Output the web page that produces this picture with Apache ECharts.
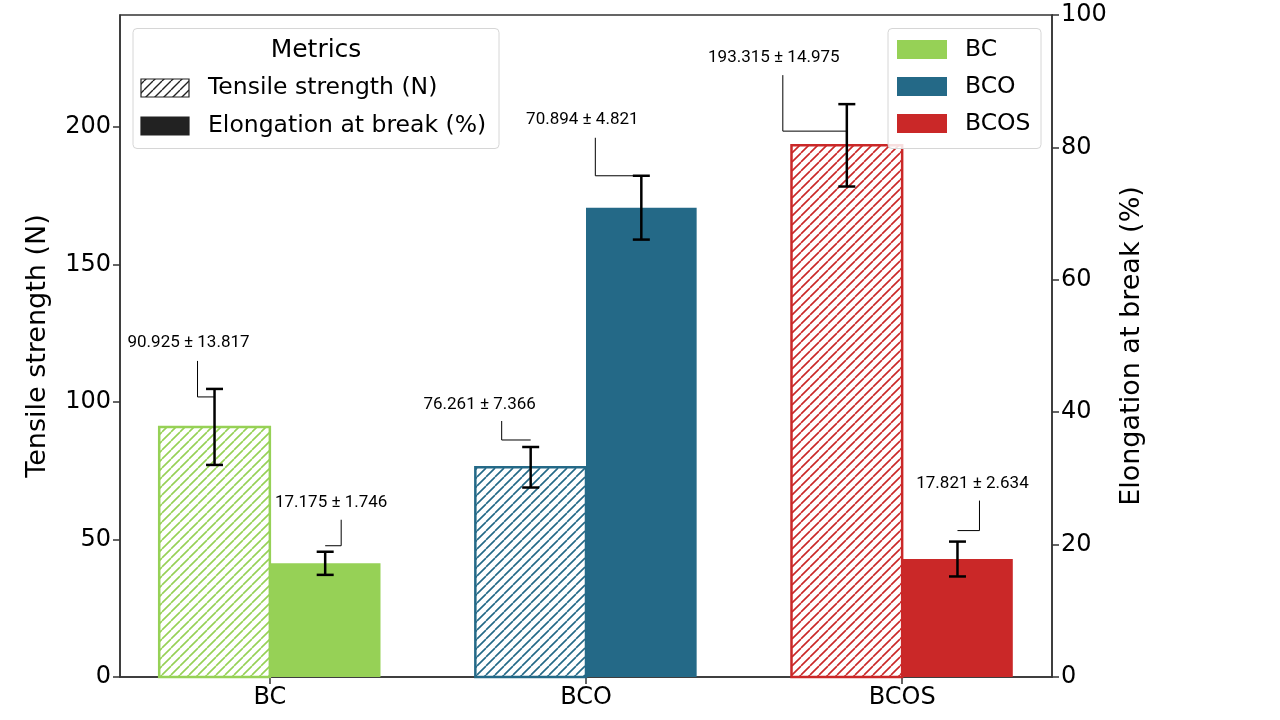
<!DOCTYPE html>
<html><head><meta charset="utf-8">
<script src="https://cdn.jsdelivr.net/npm/echarts@6/dist/echarts.min.js"></script>
<style>html,body{margin:0;padding:0;background:#fff}#c{width:1280px;height:720px}</style>
</head><body><div id="c"></div>
<script>
// ---- data ----
const categories = ['BC', 'BCO', 'BCOS'];
const tensileMean = [90.925, 76.261, 193.315];
const tensileErr = [13.817, 7.366, 14.975];
const elongMean = [17.175, 70.894, 17.821];
const elongErr = [1.746, 4.821, 2.634];
const leftTicks = [0, 50, 100, 150, 200];
const rightTicks = [0, 20, 40, 60, 80, 100];
const categoryTicks = [0, 1, 2];
const metricNames = ['Tensile strength (N)', 'Elongation at break (%)'];

// ---- styles / layout ----
const colors = ['#96d156', '#246987', '#ca2828'];
const barWidth = 0.35;
const xExtent = [-0.474, 2.474];
const leftMax = 240.7;
const rightMax = 100;
// annotation layout (pixel offsets from the error bar top)
const tensileLayout = [
  {lx: -26, ly: -46, vx: -17, vy0: -28, vy1: 8},
  {lx: -51, ly: -42, vx: -29, vy0: -26, vy1: -7},
  {lx: -73, ly: -46, vx: -64, vy0: -29, vy1: 27}
];
const elongLayout = [
  {lx: 6, ly: -49, vx: 16, vy0: -32, vy1: -6},
  {lx: -59, ly: -56, vx: -46, vy0: -38, vy1: 0},
  {lx: 15, ly: -58, vx: 22, vy0: -41, vy1: -11}
];

function makeHatch(color, size, lw) {
  const c = document.createElement('canvas');
  c.width = size; c.height = size;
  const g = c.getContext('2d');
  g.fillStyle = '#ffffff'; g.fillRect(0, 0, size, size);
  g.strokeStyle = color; g.lineWidth = lw;
  g.beginPath();
  for (let k = -1; k <= 1; k++) { g.moveTo(k * size, size); g.lineTo(k * size + size, 0); }
  g.stroke();
  return c;
}
const hatchCanvases = colors.map(c => makeHatch(c, 9, 1.6));
const blackHatch = makeHatch('#222222', 9, 1.4);

const FONT = 'DejaVu Sans';
const TICK_SIZE = 24;
const NAME_SIZE = 27;
const LEG_SIZE = 23.5;

function barSeries(name, means, yAxisIndex, hatched) {
  return {
    type: 'custom', name: name, xAxisIndex: 0, yAxisIndex: yAxisIndex, z: hatched ? 2 : 3,
    data: means.map((v, i) => [i, v]),
    renderItem: function (params, api) {
      const i = api.value(0), v = api.value(1);
      const x0 = hatched ? i - barWidth : i;
      const p0 = api.coord([x0, v]);
      const p1 = api.coord([x0 + barWidth, 0]);
      const shape = {x: p0[0], y: p0[1], width: p1[0] - p0[0], height: p1[1] - p0[1]};
      if (hatched) {
        return {type: 'rect', shape: shape,
          style: {fill: {image: hatchCanvases[i], repeat: 'repeat'}, stroke: colors[i], lineWidth: 2.5}};
      }
      return {type: 'rect', shape: shape, style: {fill: colors[i]}};
    }
  };
}

function errSeries(means, errs, yAxisIndex, side, layout) {
  return {
    type: 'custom', xAxisIndex: 0, yAxisIndex: yAxisIndex, z: 10,
    data: means.map((v, i) => [i, v, errs[i]]),
    renderItem: function (params, api) {
      const i = api.value(0), v = api.value(1), e = api.value(2);
      const xc = i + side * barWidth / 2;
      const top = api.coord([xc, v + e]);
      const bot = api.coord([xc, v - e]);
      const L = layout[i];
      const cap = 8.5;
      const ls = {stroke: '#000', lineWidth: 2.5};
      return {type: 'group', children: [
        {type: 'polyline', z2: 5, shape: {points: [[top[0] + L.vx, top[1] + L.vy0], [top[0] + L.vx, top[1] + L.vy1], [top[0], top[1] + L.vy1]]},
          style: {stroke: '#000', lineWidth: 1, fill: null}},
        {type: 'line', z2: 6, shape: {x1: top[0], y1: top[1], x2: bot[0], y2: bot[1]}, style: ls},
        {type: 'line', z2: 6, shape: {x1: top[0] - cap, y1: top[1], x2: top[0] + cap, y2: top[1]}, style: ls},
        {type: 'line', z2: 6, shape: {x1: bot[0] - cap, y1: bot[1], x2: bot[0] + cap, y2: bot[1]}, style: ls},
        {type: 'text', z2: 7, x: top[0] + L.lx, y: top[1] + L.ly,
          style: {text: v.toFixed(3) + ' \u00b1 ' + e.toFixed(3), fontSize: 17, fontFamily: 'Roboto',
            fill: '#000', align: 'center', verticalAlign: 'middle'}}
      ]};
    }
  };
}

const axisLineStyle = {color: '#333', width: 1.5};

const chart = echarts.init(document.getElementById('c'), null, {renderer: 'canvas'});
chart.setOption({
  animation: false,
  backgroundColor: '#fff',
  grid: {left: 120, right: 228, top: 15, bottom: 43, containLabel: false, outerBoundsMode: 'none',
    show: true, borderColor: '#333', borderWidth: 1.5, backgroundColor: 'transparent'},
  xAxis: {
    type: 'value', min: xExtent[0], max: xExtent[1], splitLine: {show: false},
    axisLine: {show: true, onZero: false, lineStyle: axisLineStyle},
    axisTick: {show: true, customValues: categoryTicks, length: 7, lineStyle: axisLineStyle},
    axisLabel: {customValues: categoryTicks, formatter: v => categories[Math.round(v)],
      fontSize: TICK_SIZE, color: '#000', margin: 9, fontFamily: FONT}
  },
  yAxis: [
    {type: 'value', min: 0, max: leftMax, position: 'left', splitLine: {show: false},
      axisLine: {show: true, onZero: false, lineStyle: axisLineStyle},
      axisTick: {show: true, customValues: leftTicks, length: 7, lineStyle: axisLineStyle},
      axisLabel: {customValues: leftTicks, fontSize: TICK_SIZE, color: '#000', margin: 9, fontFamily: FONT},
      name: metricNames[0], nameLocation: 'middle', nameGap: 69,
      nameTextStyle: {fontSize: NAME_SIZE, color: '#000', fontFamily: FONT}},
    {type: 'value', min: 0, max: rightMax, interval: 20, position: 'right', splitLine: {show: false},
      axisLine: {show: true, onZero: false, lineStyle: axisLineStyle},
      axisTick: {show: true, customValues: rightTicks, length: 7, lineStyle: axisLineStyle},
      axisLabel: {customValues: rightTicks, fontSize: TICK_SIZE, color: '#000', margin: 9, fontFamily: FONT},
      name: metricNames[1], nameLocation: 'middle', nameGap: 66,
      nameTextStyle: {fontSize: NAME_SIZE, color: '#000', fontFamily: FONT}}
  ],
  series: [
    barSeries(metricNames[0], tensileMean, 0, true),
    barSeries(metricNames[1], elongMean, 1, false),
    errSeries(tensileMean, tensileErr, 0, -1, tensileLayout),
    errSeries(elongMean, elongErr, 1, 1, elongLayout)
  ],
  graphic: [
    // Metrics legend
    {type: 'rect', z: 100, shape: {x: 133, y: 28.5, width: 366, height: 120, r: 4},
      style: {fill: 'rgba(255,255,255,0.85)', stroke: '#d6d6d6', lineWidth: 1}},
    {type: 'text', z: 101, x: 316, y: 50, style: {text: 'Metrics', fontSize: 25, fontFamily: FONT, fill: '#000', align: 'center', verticalAlign: 'middle'}},
    {type: 'rect', z: 101, shape: {x: 141, y: 79, width: 48, height: 18},
      style: {fill: {image: blackHatch, repeat: 'repeat'}, stroke: '#222', lineWidth: 1.2}},
    {type: 'text', z: 101, x: 208, y: 88, style: {text: metricNames[0], fontSize: LEG_SIZE, fontFamily: FONT, fill: '#000', align: 'left', verticalAlign: 'middle'}},
    {type: 'rect', z: 101, shape: {x: 141, y: 117, width: 48, height: 18},
      style: {fill: '#222', stroke: '#222', lineWidth: 1.2}},
    {type: 'text', z: 101, x: 208, y: 126, style: {text: metricNames[1], fontSize: LEG_SIZE, fontFamily: FONT, fill: '#000', align: 'left', verticalAlign: 'middle'}},
    // Sample legend
    {type: 'rect', z: 100, shape: {x: 888, y: 28.5, width: 153, height: 120, r: 4},
      style: {fill: 'rgba(255,255,255,0.85)', stroke: '#d6d6d6', lineWidth: 1}},
    ...categories.map((c, i) => ({type: 'rect', z: 101, shape: {x: 897, y: 40 + i * 37, width: 50, height: 19},
      style: {fill: colors[i]}})),
    ...categories.map((c, i) => ({type: 'text', z: 101, x: 965, y: 50 + i * 37,
      style: {text: c, fontSize: LEG_SIZE, fontFamily: FONT, fill: '#000', align: 'left', verticalAlign: 'middle'}}))
  ]
});
</script>
</body></html>
